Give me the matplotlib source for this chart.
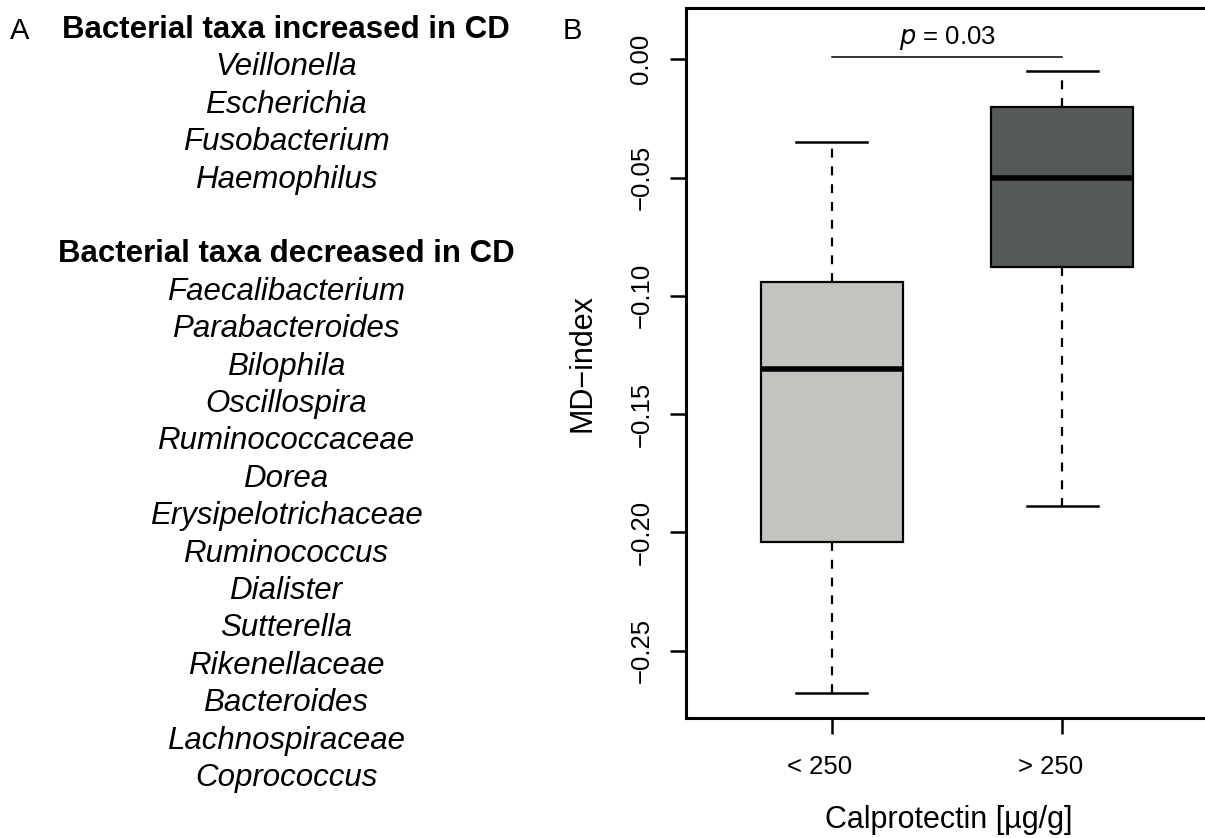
import matplotlib
matplotlib.use("Agg")
import matplotlib.pyplot as plt
import matplotlib.transforms as mtransforms

plt.rcParams['font.family'] = ['Liberation Sans', 'DejaVu Sans']

# Panel A text
increased_taxa = ["Veillonella", "Escherichia", "Fusobacterium", "Haemophilus"]
decreased_taxa = ["Faecalibacterium", "Parabacteroides", "Bilophila", "Oscillospira",
                  "Ruminococcaceae", "Dorea", "Erysipelotrichaceae", "Ruminococcus",
                  "Dialister", "Sutterella", "Rikenellaceae", "Bacteroides",
                  "Lachnospiraceae", "Coprococcus"]

# Panel B box statistics (MD-index)
groups = ["< 250", "> 250"]
whisker_low = [-0.268, -0.189]
q1 = [-0.204, -0.088]
median = [-0.131, -0.050]
q3 = [-0.094, -0.020]
whisker_high = [-0.035, -0.005]
box_colors = ["#c3c3c0", "#56595a"]
p_text = "0.03"

W, H = 1205, 838
fig = plt.figure(figsize=(W / 100, H / 100), dpi=100)

def fx(px):
    return px / W

def fy(py):
    return 1 - py / H

# ---- panel A ----
fig.text(fx(20), fy(31), "A", fontsize=21, ha='center', va='center')
rows = [("Bacterial taxa increased in CD", 'bold')] + [(t, 'italic') for t in increased_taxa] \
    + [None] + [("Bacterial taxa decreased in CD", 'bold')] + [(t, 'italic') for t in decreased_taxa]
step = 37.4
for i, row in enumerate(rows):
    if row is None:
        continue
    txt, style = row
    kw = dict(fontweight='bold') if style == 'bold' else dict(fontstyle='italic')
    fig.text(fx(286), fy(30 + step * i), txt, fontsize=22.5, ha='center', va='center', **kw)

# ---- panel B ----
fig.text(fx(572), fy(31), "B", fontsize=21, ha='center', va='center')

ax = fig.add_axes([fx(686), fy(718.3), fx(1211) - fx(686), fy(7.7) - fy(718.3)])
stats = []
for i, g in enumerate(groups):
    stats.append(dict(label=g, whislo=whisker_low[i], q1=q1[i], med=median[i],
                      q3=q3[i], whishi=whisker_high[i], fliers=[]))
bp = ax.bxp(stats, positions=[1, 2], widths=0.616, capwidths=0.308, patch_artist=True,
            showfliers=False,
            boxprops=dict(linewidth=1.6, edgecolor='black'),
            medianprops=dict(linewidth=4, color='black', solid_capstyle='butt'),
            whiskerprops=dict(linewidth=1.6, linestyle=(0, (4, 4)), color='black'),
            capprops=dict(linewidth=1.8, color='black'))
for patch, c in zip(bp['boxes'], box_colors):
    patch.set_facecolor(c)

ax.set_xlim(0.368, 2.645)
ax.set_ylim(-0.2786, 0.0218)

# significance bar
ax.plot([1, 2], [0.001, 0.001], color='black', linewidth=1.1)
ax.text(1.5, 0.0066, r"$p$ = " + p_text, ha='center', va='baseline', fontsize=18.5)

ax.set_yticks([0.0, -0.05, -0.10, -0.15, -0.20, -0.25])
ax.set_yticklabels(["0.00", "\u22120.05", "\u22120.10", "\u22120.15", "\u22120.20", "\u22120.25"],
                   rotation=90, va='center')
ax.set_xticks([1, 2])
ax.set_xticklabels(groups)
ax.tick_params(axis='both', length=11.5, width=1.8, labelsize=18.5)
ax.tick_params(axis='y', pad=12)
ax.tick_params(axis='x', pad=15)
offset = mtransforms.ScaledTranslation(-12 / 100, 0, fig.dpi_scale_trans)
for lbl in ax.get_xticklabels():
    lbl.set_transform(lbl.get_transform() + offset)

for s in ['left', 'bottom', 'top']:
    ax.spines[s].set_linewidth(2.2)
ax.spines['right'].set_visible(False)

ax.set_xlabel("Calprotectin [\u00b5g/g]", fontsize=22, labelpad=19)
ax.set_ylabel("MD\u2212index", fontsize=22, labelpad=23)

fig.savefig("out.png", dpi=100)
